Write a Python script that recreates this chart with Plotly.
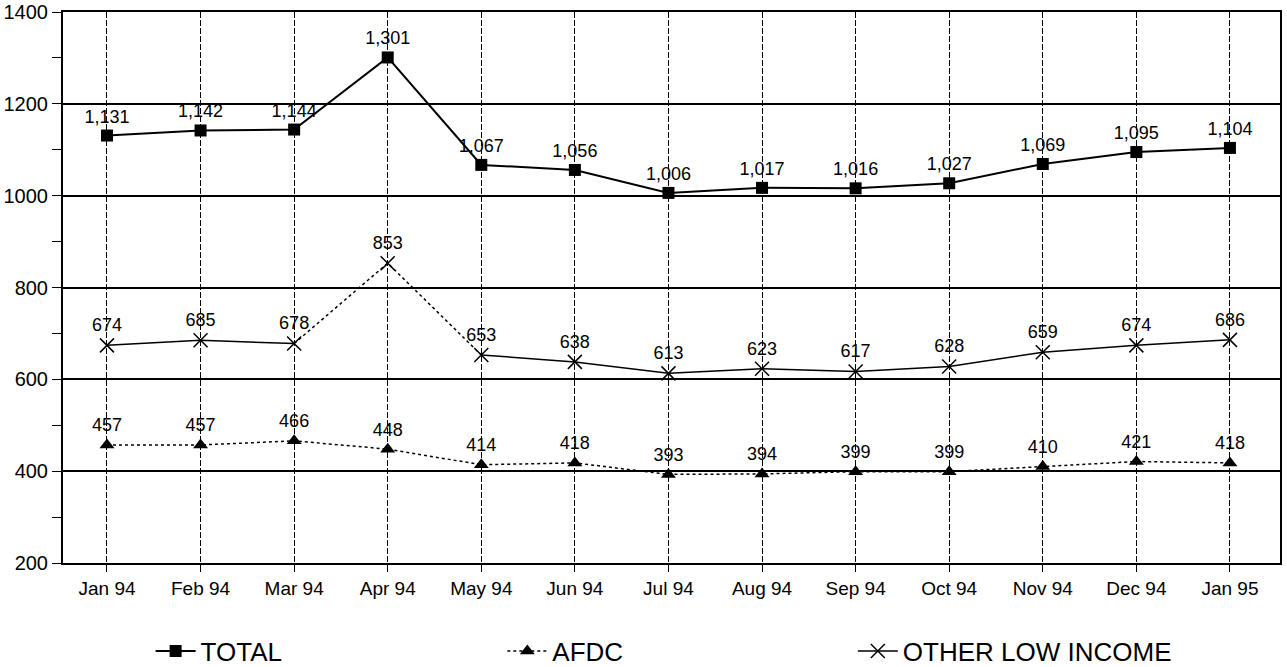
import plotly.graph_objects as go

months = ["Jan 94", "Feb 94", "Mar 94", "Apr 94", "May 94", "Jun 94", "Jul 94",
          "Aug 94", "Sep 94", "Oct 94", "Nov 94", "Dec 94", "Jan 95"]
total = [1131, 1142, 1144, 1301, 1067, 1056, 1006, 1017, 1016, 1027, 1069, 1095, 1104]
afdc = [457, 457, 466, 448, 414, 418, 393, 394, 399, 399, 410, 421, 418]
other = [674, 685, 678, 853, 653, 638, 613, 623, 617, 628, 659, 674, 686]

FONT = "Liberation Sans, Arial, sans-serif"
LABEL_SIZE = 18
fig = go.Figure()

def fmt(v):
    return f"{v:,}"

# TOTAL
fig.add_trace(go.Scatter(
    x=months, y=total, mode="lines+markers+text", name="TOTAL",
    line=dict(color="black", width=2),
    marker=dict(symbol="square", size=12, color="black"),
    text=[fmt(v) for v in total], textposition="top center",
    textfont=dict(size=LABEL_SIZE, color="black", family=FONT),
    legend="legend",
))

# OTHER LOW INCOME (dotted segment Mar-May)
seg = [v if 2 <= i <= 4 else None for i, v in enumerate(other)]
solid_a = [v if i <= 2 else None for i, v in enumerate(other)]
solid_b = [v if i >= 4 else None for i, v in enumerate(other)]
for ys, dash in ((seg, "dot"), (solid_a, "solid"), (solid_b, "solid")):
    fig.add_trace(go.Scatter(
        x=months, y=ys, mode="lines", showlegend=False,
        line=dict(color="black", width=1.5, dash=dash), hoverinfo="skip",
    ))
fig.add_trace(go.Scatter(
    x=months, y=other, mode="markers+text", name="OTHER LOW INCOME",
    marker=dict(symbol="x-thin", size=14, color="black",
                line=dict(width=1.5, color="black")),
    text=[str(v) for v in other], textposition="top center",
    textfont=dict(size=LABEL_SIZE, color="black", family=FONT),
    showlegend=False,
))
fig.add_trace(go.Scatter(
    x=[None], y=[None], mode="lines+markers", name="OTHER LOW INCOME",
    line=dict(color="black", width=1.5),
    marker=dict(symbol="x-thin", size=14, color="black",
                line=dict(width=1.5, color="black")),
    legend="legend3",
))

# AFDC
fig.add_trace(go.Scatter(
    x=months, y=afdc, mode="lines+markers+text", name="AFDC",
    line=dict(color="black", width=1.5, dash="dot"),
    marker=dict(symbol="triangle-up", size=13, color="black"),
    text=[str(v) for v in afdc], textposition="top center",
    textfont=dict(size=LABEL_SIZE, color="black", family=FONT),
    legend="legend2",
))

legend_common = dict(orientation="h", yanchor="middle", xanchor="left",
                     font=dict(size=26, family=FONT, color="black"),
                     bgcolor="rgba(0,0,0,0)", itemwidth=40)
LY = -0.160
fig.update_layout(
    width=1287, height=667,
    margin=dict(l=63, r=7, t=12, b=104, autoexpand=False),
    paper_bgcolor="white", plot_bgcolor="white",
    font=dict(family=FONT, color="black", size=18),
    legend=dict(x=0.072, y=LY, **legend_common),
    legend2=dict(x=0.361, y=LY, **legend_common),
    legend3=dict(x=0.649, y=LY, **legend_common),
    xaxis=dict(
        type="category", categoryorder="array", categoryarray=months,
        range=[-0.47, 12.535], automargin=False,
        showgrid=True, gridcolor="black", gridwidth=1, griddash="6px,2px",
        showline=True, linecolor="black", linewidth=2, mirror=True,
        ticks="outside", ticklen=7, tickcolor="black",
        tickfont=dict(size=19, family=FONT, color="black"),
        zeroline=False,
    ),
    yaxis=dict(
        range=[200, 1400], tickvals=[200, 400, 600, 800, 1000, 1200, 1400],
        automargin=False,
        showgrid=True, gridcolor="black", gridwidth=1.5,
        showline=True, linecolor="black", linewidth=2, mirror=True,
        ticks="outside", ticklen=9, tickcolor="black",
        minor=dict(tickvals=[300, 500, 700, 900, 1100, 1300], ticks="outside",
                   ticklen=9, tickcolor="black", showgrid=False),
        tickfont=dict(size=20, family=FONT, color="black"),
        zeroline=False,
    ),
)

fig.write_html(
    "out.html",
    config={"displayModeBar": False},
    post_script="document.body.style.margin='0';document.body.style.padding='0';"
                "document.body.style.overflow='hidden';",
)
